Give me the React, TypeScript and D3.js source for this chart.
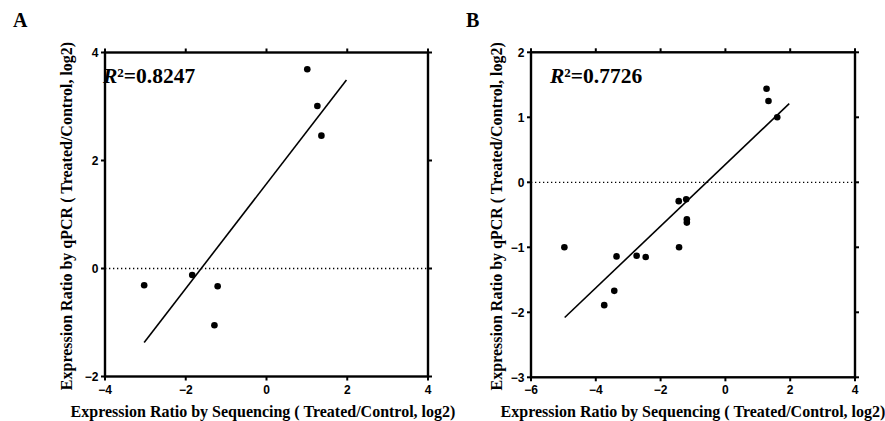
import React from "react";
import * as d3 from "d3";

// Panel A data
const aSeqX = [1.01, 1.26, 1.36, -1.84, -3.03, -1.21, -1.29];
const aQpcrY = [3.69, 3.01, 2.46, -0.12, -0.31, -0.33, -1.05];
const aFitX = [-3.03, 1.98];
const aFitY = [-1.37, 3.49];
const aXTicks = [-4, -2, 0, 2, 4];
const aYTicks = [-2, 0, 2, 4];
const aR2 = "0.8247";

// Panel B data
const bSeqX = [1.27, 1.33, 1.6, -1.44, -1.21, -1.19, -1.19, -4.97, -3.36, -2.74, -2.46, -1.43, -3.43, -3.74];
const bQpcrY = [1.44, 1.25, 1.0, -0.29, -0.26, -0.57, -0.62, -1.0, -1.14, -1.13, -1.15, -1.0, -1.67, -1.89];
const bFitX = [-4.96, 1.97];
const bFitY = [-2.08, 1.21];
const bXTicks = [-6, -4, -2, 0, 2, 4];
const bYTicks = [-3, -2, -1, 0, 1, 2];
const bR2 = "0.7726";

const xLabel = "Expression Ratio by Sequencing ( Treated/Control, log2)";
const yLabel = "Expression Ratio by qPCR ( Treated/Control, log2)";

const SERIF = "'Liberation Serif', 'Times New Roman', serif";
const SANS = "'Liberation Sans', Arial, sans-serif";

const fmt = (v: number) => (v < 0 ? "\u2212" + Math.abs(v) : String(v));

type PanelProps = {
  letter: string;
  letterX: number;
  xs: number[];
  ys: number[];
  fitX: number[];
  fitY: number[];
  xTicks: number[];
  yTicks: number[];
  r2: string;
  r2X: number;
  px: [number, number];
  py: [number, number];
  yLabelX: number;
  xLabelCenter: number;
};

function Panel(p: PanelProps) {
  const xDom = d3.extent(p.xTicks) as [number, number];
  const yDom = d3.extent(p.yTicks) as [number, number];
  const x = d3.scaleLinear().domain(xDom).range(p.px);
  const y = d3.scaleLinear().domain(yDom).range(p.py);
  const [x0, x1] = p.px;
  const [yb, yt] = p.py;
  const tl = 4;
  const line = d3
    .line<number>()
    .x((_, i) => x(p.fitX[i]))
    .y((d) => y(d));
  return (
    <g>
      <text x={p.letterX} y={27} fontFamily={SERIF} fontWeight="bold" fontSize={20}>
        {p.letter}
      </text>
      {/* zero dotted line */}
      <line
        x1={x0}
        x2={x1}
        y1={y(0)}
        y2={y(0)}
        stroke="#000"
        strokeWidth={1.3}
        strokeDasharray="1.3,2.7"
      />
      {/* regression line */}
      <path d={line(p.fitY) || ""} fill="none" stroke="#000" strokeWidth={1.6} />
      {/* points */}
      {p.xs.map((v, i) => (
        <circle key={i} cx={x(v)} cy={y(p.ys[i])} r={3.3} fill="#000" />
      ))}
      {/* frame */}
      <rect x={x0} y={yt} width={x1 - x0} height={yb - yt} fill="none" stroke="#000" strokeWidth={2.4} />
      {/* x ticks bottom & top */}
      {p.xTicks.map((t) => (
        <g key={"x" + t}>
          <line x1={x(t)} x2={x(t)} y1={yb} y2={yb + tl} stroke="#000" strokeWidth={2} />
          <line x1={x(t)} x2={x(t)} y1={yt} y2={yt - tl} stroke="#000" strokeWidth={2} />
          <text
            x={x(t)}
            y={yb + 17}
            textAnchor="middle"
            fontFamily={SANS}
            fontWeight="bold"
            fontSize={12}
          >
            {fmt(t)}
          </text>
        </g>
      ))}
      {/* y ticks left & right */}
      {p.yTicks.map((t) => (
        <g key={"y" + t}>
          <line x1={x0} x2={x0 - tl} y1={y(t)} y2={y(t)} stroke="#000" strokeWidth={2} />
          <line x1={x1} x2={x1 + tl} y1={y(t)} y2={y(t)} stroke="#000" strokeWidth={2} />
          <text
            x={x0 - 6.5}
            y={y(t)}
            dy="0.36em"
            textAnchor="end"
            fontFamily={SANS}
            fontWeight="bold"
            fontSize={12}
          >
            {fmt(t)}
          </text>
        </g>
      ))}
      {/* R2 */}
      <text x={p.r2X} y={83} fontFamily={SERIF} fontWeight="bold" fontSize={21.5}>
        <tspan fontStyle="italic">R</tspan>
        <tspan>{"\u00B2=" + p.r2}</tspan>
      </text>
      {/* axis labels */}
      <text
        x={p.xLabelCenter}
        y={417}
        textAnchor="middle"
        fontFamily={SERIF}
        fontWeight="bold"
        fontSize={16}
      >
        {xLabel}
      </text>
      <text
        transform={`translate(${p.yLabelX},${(yt + yb) / 2 + 1.5}) rotate(-90)`}
        textAnchor="middle"
        fontFamily={SERIF}
        fontWeight="bold"
        fontSize={16}
      >
        {yLabel}
      </text>
    </g>
  );
}

export default function App() {
  return (
    <svg
      width={885}
      height={421}
      style={{ position: "absolute", left: 0, top: 0, background: "#fff" }}
    >
      <rect width={885} height={421} fill="#fff" />
      <Panel
        letter="A"
        letterX={13}
        xs={aSeqX}
        ys={aQpcrY}
        fitX={aFitX}
        fitY={aFitY}
        xTicks={aXTicks}
        yTicks={aYTicks}
        r2={aR2}
        r2X={103}
        px={[105, 428]}
        py={[376.5, 52.5]}
        yLabelX={72}
        xLabelCenter={263}
      />
      <Panel
        letter="B"
        letterX={466}
        xs={bSeqX}
        ys={bQpcrY}
        fitX={bFitX}
        fitY={bFitY}
        xTicks={bXTicks}
        yTicks={bYTicks}
        r2={bR2}
        r2X={550}
        px={[531, 855]}
        py={[377.3, 52.3]}
        yLabelX={502}
        xLabelCenter={693}
      />
    </svg>
  );
}
